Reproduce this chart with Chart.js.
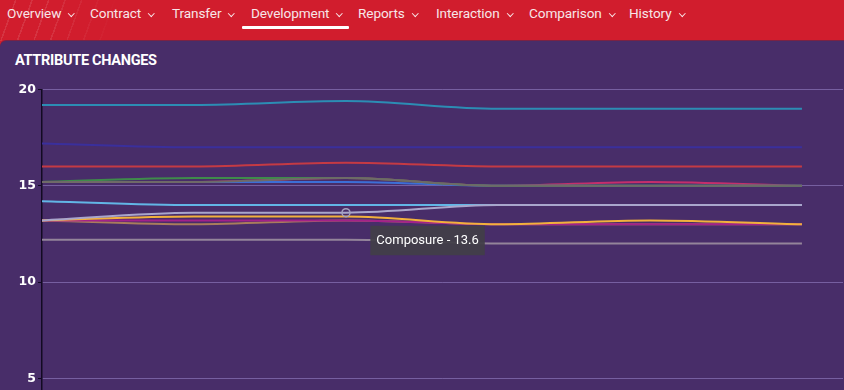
<!DOCTYPE html>
<html><head><meta charset="utf-8">
<script src="https://cdn.jsdelivr.net/npm/chart.js@4"></script>
<style>
html,body{margin:0;padding:0;width:844px;height:390px;overflow:hidden;background:#d11d2d;font-family:Roboto,"Noto Sans",sans-serif;}
#nav{position:absolute;left:0;top:0;width:844px;height:41px;background:#d11d2d;overflow:hidden}
#deco{position:absolute;left:0;top:0;width:120px;height:41px;background:repeating-linear-gradient(110deg,rgba(255,255,255,0) 0 14px,rgba(255,255,255,0.10) 14px 15.5px);-webkit-mask-image:linear-gradient(90deg,#000 40%,transparent);}
.item{position:absolute;top:5px;color:#f7e6e8;font-size:13.6px;white-space:nowrap;letter-spacing:-0.1px}
.chev{display:inline-block;width:3.5px;height:3.5px;border-right:1.5px solid #f7e6e8;border-bottom:1.5px solid #f7e6e8;transform:rotate(45deg);margin-left:8px;position:relative;top:-3px}
#ul{position:absolute;left:242px;top:26px;width:107px;height:3px;background:#fff;border-radius:1px}
#panel{position:absolute;left:0;top:41px;width:844px;height:349px;background:#482d69;border-top-left-radius:6px;box-shadow:0 -1px 0 #7a2245}
#title{position:absolute;left:15px;top:52px;color:#fff;font:700 14.5px Roboto,sans-serif;letter-spacing:-0.3px}
#wrap{position:absolute;left:0;top:80px;width:844px;height:404px}
</style></head>
<body>
<div id="nav"><div id="deco"></div>
<div class="item" style="left:7px">Overview<span class="chev"></span></div>
<div class="item" style="left:90px">Contract<span class="chev"></span></div>
<div class="item" style="left:172px">Transfer<span class="chev"></span></div>
<div class="item" style="left:251px">Development<span class="chev"></span></div>
<div class="item" style="left:358px">Reports<span class="chev"></span></div>
<div class="item" style="left:436px">Interaction<span class="chev"></span></div>
<div class="item" style="left:529px">Comparison<span class="chev"></span></div>
<div class="item" style="left:629px">History<span class="chev"></span></div>
<div id="ul"></div>
</div>
<div id="panel"></div>
<div id="title">ATTRIBUTE CHANGES</div>
<div id="wrap"><canvas id="c"></canvas></div>
<script>
// categories (snapshot dates, not visible in the cropped view)
const dates = ['Jul 2019','Jan 2020','Jul 2020','Jan 2021','Jul 2021','Jan 2022'];
const yTicks = [0, 5, 10, 15, 20];

// series values
const composure    = [13.2, 13.6, 13.6, 14.0, 14.0, 14.0];
const passing      = [13.2, 13.4, 13.4, 13.0, 13.2, 13.0];
const teamwork     = [13.2, 13.2, 13.2, 13.0, 13.0, 13.0];
const workRate     = [13.2, 13.0, 13.2, 13.0, 13.0, 13.0];
const offTheBall   = [15.2, 15.2, 15.4, 15.0, 15.0, 15.0];
const anticipation = [15.2, 15.4, 15.4, 15.0, 15.0, 15.0];
const decisions    = [15.2, 15.2, 15.2, 15.0, 15.0, 15.0];
const flair        = [15.2, 15.2, 15.4, 15.0, 15.2, 15.0];
const vision       = [14.2, 14.0, 14.0, 14.0, 14.0, 14.0];
const technique    = [19.2, 19.2, 19.4, 19.0, 19.0, 19.0];
const firstTouch   = [17.2, 17.0, 17.0, 17.0, 17.0, 17.0];
const dribbling    = [16.0, 16.0, 16.2, 16.0, 16.0, 16.0];
const crossing     = [12.2, 12.2, 12.2, 12.0, 12.0, 12.0];

const series = [
  ['Composure', composure, '#a9a6cc'],
  ['Passing', passing, '#f2b13c'],
  ['Teamwork', teamwork, '#a3218a'],
  ['Work Rate', workRate, '#a97c5c'],
  ['Off the Ball', offTheBall, '#6f6a68'],
  ['Anticipation', anticipation, '#3f8b4b'],
  ['Decisions', decisions, '#3d6fd6'],
  ['Flair', flair, '#c42f6c'],
  ['Vision', vision, '#62b6e6'],
  ['Technique', technique, '#2c8db4'],
  ['First Touch', firstTouch, '#3a2f9c'],
  ['Dribbling', dribbling, '#c43a44'],
  ['Crossing', crossing, '#93849a']
];

Chart.Tooltip.positioners.belowRight = function(items){
  if(!items.length) return false;
  const el = items[0].element;
  return {x: el.x + 24, y: el.y + 13};
};

const chart = new Chart(document.getElementById('c'), {
  type: 'line',
  data: {
    labels: dates,
    datasets: series.map(([name, vals, col]) => ({
      label: name,
      data: vals.map((v, i) => ({x: i, y: v})),
      borderColor: col,
      backgroundColor: col,
      borderWidth: 2,
      pointRadius: 0,
      pointHoverRadius: 4,
      pointHoverBorderWidth: 1.5,
      pointHoverBorderColor: '#a4a2bf',
      pointHoverBackgroundColor: 'rgba(0,0,0,0)',
      cubicInterpolationMode: 'monotone',
      fill: false
    }))
  },
  options: {
    responsive: true,
    maintainAspectRatio: false,
    animation: false,
    events: [],
    layout: {padding: {top: 0, right: 0, left: 0, bottom: 0}},
    plugins: {
      legend: {display: false},
      title: {display: false},
      tooltip: {
        enabled: true,
        position: 'belowRight',
        xAlign: 'left',
        yAlign: 'top',
        caretSize: 0,
        caretPadding: 0,
        cornerRadius: 0,
        displayColors: false,
        backgroundColor: 'rgba(66,63,72,0.94)',
        bodyColor: '#ffffff',
        bodyFont: {family: 'Roboto', size: 13},
        padding: {left: 6, right: 6, top: 7, bottom: 7},
        callbacks: {
          title: () => '',
          label: (ctx) => ctx.dataset.label + ' - ' + ctx.parsed.y.toFixed(1)
        }
      }
    },
    scales: {
      x: {
        type: 'linear',
        min: 0,
        max: 5.27,
        display: false
      },
      y: {
        min: 0,
        max: 20,
        afterBuildTicks: (s) => { s.ticks = yTicks.map(v => ({value: v})); },
        afterFit: (s) => { s.width = 42; },
        border: {display: true, color: '#120a22', width: 1.5},
        grid: {
          color: 'rgba(150,128,196,0.6)',
          lineWidth: 1,
          tickColor: '#120a22',
          tickLength: 4,
          drawTicks: true
        },
        ticks: {
          color: '#ffffff',
          padding: 2,
          font: {family: 'DejaVu Sans', size: 12.5, weight: 'bold'}
        }
      }
    }
  }
});

const ci = series.findIndex(s => s[0] === 'Composure');
const act = [{datasetIndex: ci, index: 2}];
chart.setActiveElements(act);
chart.tooltip.setActiveElements(act, {x: 0, y: 0});
chart.update('none');
</script>
</body></html>
